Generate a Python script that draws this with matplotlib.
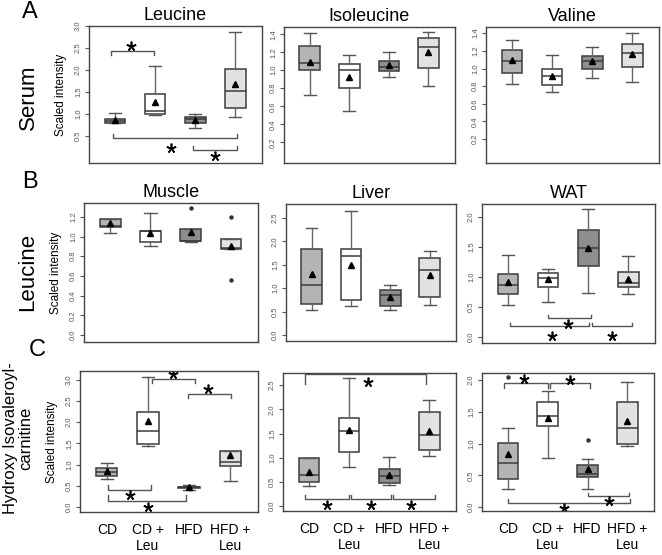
import matplotlib.pyplot as plt

plt.rcParams['font.family'] = ['Liberation Sans', 'DejaVu Sans']

W, H = 662, 555

groups = ["CD", "CD +\nLeu", "HFD", "HFD +\nLeu"]
fills = ['#b4b4b4', '#ffffff', '#8e8e8e', '#e2e2e2']

# box summaries per group: [whisker low, q1, median, q3, whisker high]
serum_leu = [[0.80, 0.80, 0.84, 0.89, 1.01], [0.97, 0.99, 1.07, 1.46, 2.09],
             [0.67, 0.80, 0.88, 0.92, 0.99], [0.92, 1.14, 1.51, 2.03, 2.86]]
serum_leu_mean = [0.86, 1.27, 0.87, 1.67]
serum_leu_out = [[], [], [], []]

serum_ile = [[0.72, 1.00, 1.075, 1.27, 1.41], [0.55, 0.805, 1.00, 1.065, 1.165],
             [0.93, 0.99, 1.04, 1.105, 1.20], [0.83, 1.03, 1.26, 1.36, 1.42]]
serum_ile_mean = [1.09, 0.93, 1.055, 1.20]
serum_ile_out = [[], [], [], []]

serum_val = [[0.82, 0.95, 1.09, 1.21, 1.32], [0.73, 0.81, 0.92, 1.00, 1.15],
             [0.89, 1.00, 1.08, 1.14, 1.245], [0.85, 1.015, 1.17, 1.275, 1.40]]
serum_val_mean = [1.10, 0.92, 1.08, 1.16]
serum_val_out = [[], [], [], []]

muscle_leu = [[1.04, 1.10, 1.11, 1.18, 1.18], [0.90, 0.94, 1.06, 1.06, 1.24],
              [0.94, 0.95, 0.95, 1.08, 1.08], [0.87, 0.87, 0.88, 0.97, 0.97]]
muscle_leu_mean = [1.14, 1.04, 1.05, 0.905]
muscle_leu_out = [[], [], [1.29], [1.20, 0.56]]

liver_leu = [[0.53, 0.67, 1.06, 1.84, 2.29], [0.62, 0.74, 1.69, 1.83, 2.66],
             [0.54, 0.61, 0.85, 0.96, 1.07], [0.63, 0.82, 1.39, 1.64, 1.80]]
liver_leu_mean = [1.31, 1.50, 0.82, 1.28]
liver_leu_out = [[], [], [], []]

wat_leu = [[0.53, 0.72, 0.87, 1.05, 1.37], [0.59, 0.83, 0.99, 1.07, 1.13],
           [0.73, 1.18, 1.49, 1.78, 2.13], [0.72, 0.84, 0.90, 1.08, 1.36]]
wat_leu_mean = [0.91, 0.97, 1.49, 0.97]
wat_leu_out = [[], [], [], []]

serum_hiva = [[0.67, 0.73, 0.83, 0.93, 1.04], [1.44, 1.48, 1.80, 2.24, 3.08],
              [0.40, 0.45, 0.46, 0.47, 0.51], [0.61, 0.96, 1.05, 1.33, 1.33]]
serum_hiva_mean = [0.85, 2.03, 0.47, 1.22]
serum_hiva_out = [[], [], [], []]

liver_hiva = [[0.41, 0.50, 0.65, 1.00, 1.00], [0.81, 1.11, 1.56, 1.83, 2.65],
              [0.43, 0.48, 0.62, 0.76, 1.02], [1.03, 1.15, 1.46, 1.94, 2.20]]
liver_hiva_mean = [0.71, 1.57, 0.65, 1.56]
liver_hiva_out = [[], [], [], []]

wat_hiva = [[0.29, 0.45, 0.695, 1.005, 1.25], [0.78, 1.27, 1.43, 1.66, 1.83],
            [0.29, 0.48, 0.52, 0.67, 0.75], [0.96, 1.00, 1.25, 1.65, 1.97]]
wat_hiva_mean = [0.84, 1.40, 0.60, 1.36]
wat_hiva_out = [[2.04], [], [1.05], []]

# significance brackets: (x from, x to, y, tick length) and stars (x, y)
serum_leu_br = [(0.9, 1.97, 2.42, -0.09), (0.95, 4.05, 0.46, 0.09), (2.95, 4.05, 0.17, 0.09)]
serum_leu_st = [(1.4, 2.55), (2.4, 0.23), (3.5, 0.05)]
wat_leu_br = [(2.0, 3.07, 0.32, 0.05), (1.05, 3.02, 0.18, 0.05), (3.1, 4.1, 0.18, 0.05)]
wat_leu_st = [(2.5, 0.22), (2.1, 0.02), (3.6, 0.02)]
serum_hiva_br = [(2.1, 3.15, 3.02, -0.1), (2.98, 4.02, 2.67, -0.1),
                 (1.02, 2.07, 0.41, 0.1), (1.02, 2.93, 0.14, 0.15)]
serum_hiva_st = [(2.6, 3.14), (3.45, 2.78), (1.56, 0.28), (2.0, 0.0)]
liver_hiva_br = [(0.9, 3.93, 2.72, -0.19), (0.9, 2.0, 0.14, 0.1),
                 (2.05, 3.05, 0.14, 0.1), (3.1, 4.15, 0.14, 0.1)]
liver_hiva_st = [(2.47, 2.57), (1.45, 0.02), (2.55, 0.02), (3.55, 0.02)]
wat_hiva_br = [(0.9, 2.0, 1.96, -0.08), (2.05, 3.05, 1.96, -0.08),
               (3.0, 4.05, 0.17, 0.06), (1.0, 4.07, 0.07, 0.06)]
wat_hiva_st = [(1.4, 2.02), (2.55, 2.0), (3.55, 0.105), (2.4, -0.01)]

fig = plt.figure(figsize=(W / 100, H / 100), dpi=100)


def panel(box, summ, means, outs, ylim, yticks, title=None, ylab=False,
          xlab=False, brackets=(), stars=()):
    l, t, r, b = box
    ax = fig.add_axes([l / W, 1 - b / H, (r - l) / W, (b - t) / H])
    stats = []
    for s, m, o in zip(summ, means, outs):
        stats.append(dict(whislo=s[0], q1=s[1], med=s[2], q3=s[3], whishi=s[4],
                          mean=m, fliers=o))
    res = ax.bxp(stats, positions=[1, 2, 3, 4], widths=0.52, capwidths=0.3,
                 patch_artist=True, showmeans=True,
                 boxprops=dict(edgecolor='#3c3c3c', linewidth=1.1),
                 medianprops=dict(color='#3c3c3c', linewidth=1.1),
                 whiskerprops=dict(color='#666666', linewidth=1),
                 capprops=dict(color='#555555', linewidth=1),
                 meanprops=dict(marker='^', markerfacecolor='black',
                                markeredgecolor='black', markersize=5),
                 flierprops=dict(marker='o', markersize=2.2,
                                 markerfacecolor='#333333', markeredgecolor='#333333'))
    for p, c in zip(res['boxes'], fills):
        p.set_facecolor(c)
    for x1, x2, y, d in brackets:
        ax.plot([x1, x1, x2, x2], [y + d, y, y, y + d], color='#555555', lw=1)
    for x, y in stars:
        ax.plot(x, y, marker=(5, 2, 0), color='black', markersize=7, mew=1.2)
    ax.set_xlim(0.35, 4.67)
    ax.set_ylim(*ylim)
    ax.set_yticks(yticks)
    ax.set_yticklabels([f"{v:.1f}" for v in yticks], rotation=90, va='center',
                       fontsize=5.5, color='#555555')
    ax.tick_params(axis='y', length=3, width=0.8, color='#555555', pad=2)
    if xlab:
        ax.set_xticks([1, 2, 3, 4])
        ax.set_xticklabels(groups, fontsize=10, linespacing=1.2, va='top')
        ax.tick_params(axis='x', length=0, pad=8)
    else:
        ax.set_xticks([])
    for sp in ax.spines.values():
        sp.set_color('#444444')
        sp.set_linewidth(1)
    if title:
        ax.set_title(title, fontsize=13, pad=4)
    if ylab:
        ax.set_ylabel("Scaled intensity", fontsize=8.5, labelpad=6)
    return ax


panel((89, 26, 262, 163), serum_leu, serum_leu_mean, serum_leu_out, (-0.12, 3.0),
      [0.5, 1.0, 1.5, 2.0, 2.5, 3.0], "Leucine", ylab=True,
      brackets=serum_leu_br, stars=serum_leu_st)
panel((284, 27, 455, 163), serum_ile, serum_ile_mean, serum_ile_out, (-0.03, 1.48),
      [0.2, 0.4, 0.6, 0.8, 1.0, 1.2, 1.4], "Isoleucine")
panel((486, 27, 659, 163), serum_val, serum_val_mean, serum_val_out, (-0.07, 1.47),
      [0.2, 0.4, 0.6, 0.8, 1.0, 1.2, 1.4], "Valine")

panel((84, 203, 258, 342), muscle_leu, muscle_leu_mean, muscle_leu_out, (-0.07, 1.34),
      [0.0, 0.2, 0.4, 0.6, 0.8, 1.0, 1.2], "Muscle", ylab=True)
panel((286, 204, 456, 341), liver_leu, liver_leu_mean, liver_leu_out, (-0.13, 2.8),
      [0.0, 0.5, 1.0, 1.5, 2.0, 2.5], "Liver")
panel((482, 204, 655, 343), wat_leu, wat_leu_mean, wat_leu_out, (-0.1, 2.22),
      [0.0, 0.5, 1.0, 1.5, 2.0], "WAT", brackets=wat_leu_br, stars=wat_leu_st)

panel((80, 371, 258, 512), serum_hiva, serum_hiva_mean, serum_hiva_out, (-0.12, 3.21),
      [0.0, 0.5, 1.0, 1.5, 2.0, 2.5, 3.0], ylab=True, xlab=True,
      brackets=serum_hiva_br, stars=serum_hiva_st)
panel((283, 373, 456, 511), liver_hiva, liver_hiva_mean, liver_hiva_out, (-0.1, 2.75),
      [0.0, 0.5, 1.0, 1.5, 2.0, 2.5], xlab=True,
      brackets=liver_hiva_br, stars=liver_hiva_st)
panel((482, 373, 654, 511), wat_hiva, wat_hiva_mean, wat_hiva_out, (-0.06, 2.11),
      [0.0, 0.5, 1.0, 1.5, 2.0], xlab=True,
      brackets=wat_hiva_br, stars=wat_hiva_st)

# panel letters and row labels
for letter, x, y in [("A", 30, 12), ("B", 30, 182), ("C", 37, 350)]:
    fig.text(x / W, 1 - y / H, letter, fontsize=17, ha='center', va='center')
fig.text(28 / W, 1 - 97 / H, "Serum", fontsize=16, rotation=90, ha='center', va='center')
fig.text(28 / W, 1 - 272 / H, "Leucine", fontsize=16, rotation=90, ha='center', va='center')
fig.text(18 / W, 1 - 438 / H, "Hydroxy Isovaleroyl-\ncarnitine", fontsize=12,
         rotation=90, ha='center', va='center', linespacing=1.05)

fig.savefig("out.png", dpi=100)
